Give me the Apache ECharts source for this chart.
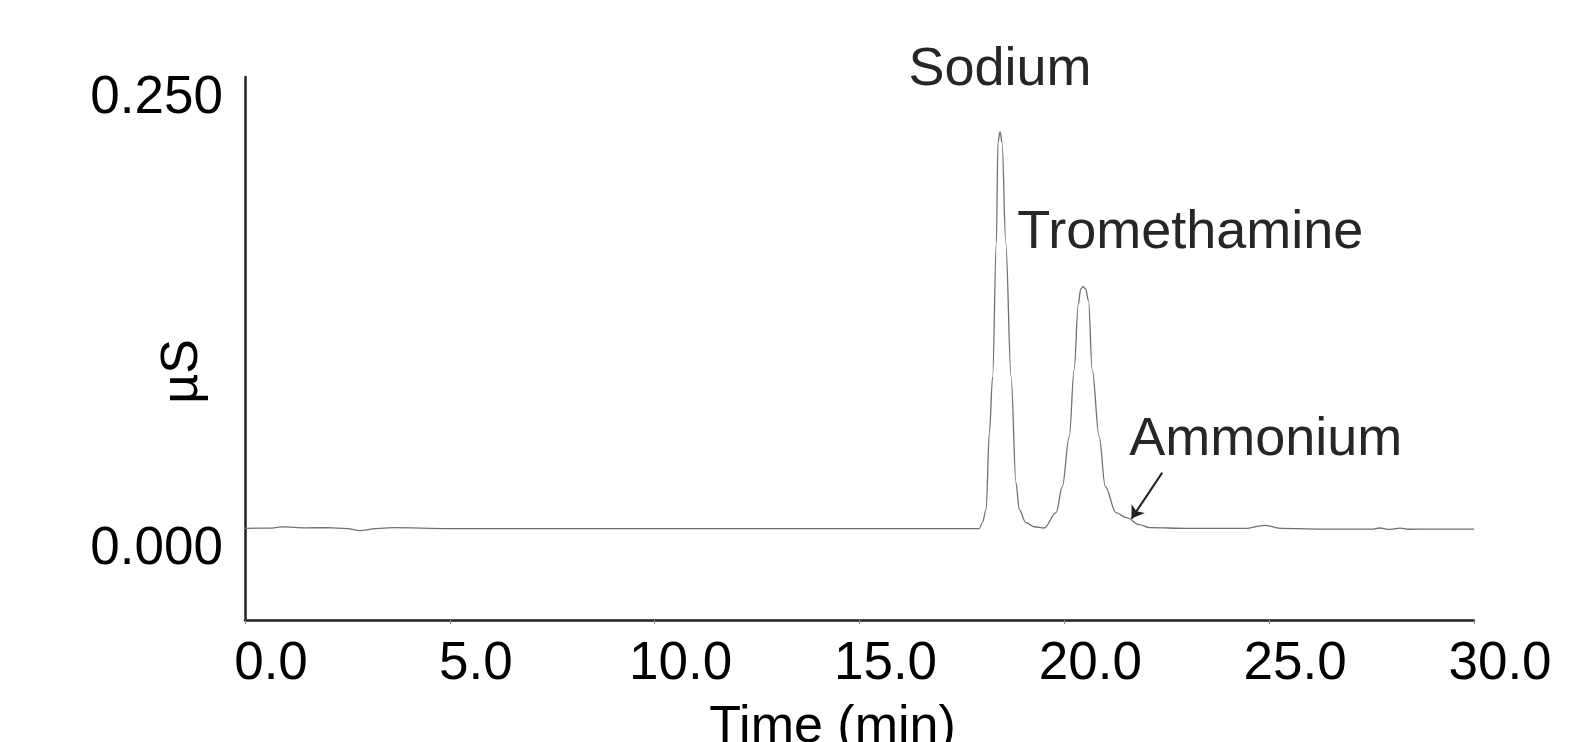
<!DOCTYPE html>
<html lang="en">

<head>
  <meta charset="utf-8">
</head>

<body style="margin: 0; background-color: #fff">
  <div id="container" style="width: 1571px; height: 742px"></div>

  <script type="text/javascript" src="https://cdn.jsdelivr.net/npm/echarts@6.0.0/dist/echarts.min.js"></script>

  <script type="text/javascript">
    // ---- data ----
    var times = [0.0, 0.6, 0.9, 1.5, 2.0, 2.5, 2.8, 3.2, 3.6, 5.0, 8.0, 12.0, 15.0, 17.0, 17.7, 17.92,
      18.0, 18.09, 18.17, 18.25, 18.34, 18.38, 18.43, 18.48, 18.57, 18.7, 18.82, 18.9, 19.06, 19.27, 19.51,
      19.8, 19.95, 20.12, 20.24, 20.34, 20.4, 20.46, 20.52, 20.59, 20.68, 20.85, 21.0, 21.26, 21.52, 21.83, 22.08,
      23.0, 24.4, 24.9, 25.3, 26.2, 27.5, 27.7, 27.9, 28.2, 28.4, 29.0, 30.0];
    var signal = [0.0118, 0.0119, 0.0126, 0.0121, 0.0122, 0.0117, 0.0105, 0.0117, 0.0122, 0.0117, 0.0117, 0.0116, 0.0116, 0.0116, 0.0117, 0.0116,
      0.0150, 0.0222, 0.0649, 0.0959, 0.1702, 0.2256, 0.2317, 0.2256, 0.1702, 0.0959, 0.0371, 0.0222, 0.0150, 0.0127, 0.0120,
      0.0205, 0.0349, 0.0626, 0.0998, 0.1360, 0.1445, 0.1458, 0.1445, 0.1380, 0.0998, 0.0626, 0.0349, 0.0205, 0.0177, 0.0139, 0.0122,
      0.0118, 0.0118, 0.0135, 0.0118, 0.0114, 0.0114, 0.0120, 0.0112, 0.0119, 0.0113, 0.0114, 0.0114];

    var yLabels = [0, 0.25];
    var peaks = [
      { name: 'Sodium', t: 18.43, v: 0.2317 },
      { name: 'Tromethamine', t: 20.46, v: 0.1458 },
      { name: 'Ammonium', t: 22.39, v: 0.0427 }
    ];
    var arrowFrom = [22.39, 0.0427];
    var arrowTo = [21.64, 0.0172];

    var dom = document.getElementById('container');
    var myChart = echarts.init(dom, null, { renderer: 'canvas', width: 1571, height: 742 });

    var lineData = times.map(function (t, i) { return [t, signal[i]]; });

    var option = {
      animation: false,
      grid: { left: 245, right: 97, top: 77, bottom: 122, containLabel: false, outerBoundsMode: 'none' },
      xAxis: {
        type: 'value',
        min: 0,
        max: 30,
        interval: 5,
        name: 'Time (min)',
        nameLocation: 'middle',
        nameGap: 82,
        nameMoveOverlap: false,
        nameTextStyle: { fontSize: 52, color: '#000', fontFamily: 'Liberation Sans', padding: [0, 54, 0, 0] },
        axisLine: { onZero: false, lineStyle: { color: '#222', width: 2.5 } },
        axisTick: { show: true, length: 4, lineStyle: { color: '#888', width: 1 } },
        axisLabel: {
          fontSize: 53, color: '#000', fontFamily: 'Liberation Sans', margin: 18,
          padding: [0, 0, 0, 52],
          formatter: function (v) { return v.toFixed(1); }
        },
        splitLine: { show: false }
      },
      yAxis: {
        type: 'value',
        min: -0.039,
        max: 0.262,
        name: 'µS',
        nameLocation: 'middle',
        nameRotate: 90,
        nameGap: 36,
        nameMoveOverlap: false,
        nameTextStyle: { fontSize: 52, color: '#000', fontFamily: 'Liberation Sans', padding: [0, 46, 0, 0] },
        axisLine: { show: true, onZero: false, lineStyle: { color: '#222', width: 2.5 } },
        axisTick: { show: false },
        axisLabel: {
          customValues: yLabels,
          fontSize: 53, color: '#000', fontFamily: 'Liberation Sans', margin: 22,
          formatter: function (v) { return v.toFixed(3); }
        },
        splitLine: { show: false }
      },
      series: [{
        type: 'line',
        data: lineData,
        showSymbol: false,
        smooth: 0.35,
        smoothMonotone: 'x',
        lineStyle: { color: '#707070', width: 1.3 },
        markPoint: {
          symbol: 'circle',
          symbolSize: 0,
          label: {
            show: true,
            fontSize: 54,
            color: '#262626',
            fontFamily: 'Liberation Sans',
            formatter: '{b}'
          },
          data: [
            { name: peaks[0].name, coord: [peaks[0].t, peaks[0].v], label: { align: 'center', verticalAlign: 'middle', offset: [0, -62] } },
            { name: peaks[1].name, coord: [peaks[1].t, peaks[1].v], label: { align: 'left', verticalAlign: 'middle', offset: [-66, -54] } },
            { name: peaks[2].name, coord: [peaks[2].t, peaks[2].v], label: { align: 'left', verticalAlign: 'middle', offset: [-33, -33] } }
          ]
        },
        markLine: {
          silent: true,
          symbol: ['none', 'arrow'],
          symbolSize: 12,
          label: { show: false },
          lineStyle: { color: '#222', width: 2, type: 'solid' },
          data: [[{ coord: arrowFrom }, { coord: arrowTo }]]
        }
      }]
    };

    myChart.setOption(option);
  </script>
</body>

</html>
